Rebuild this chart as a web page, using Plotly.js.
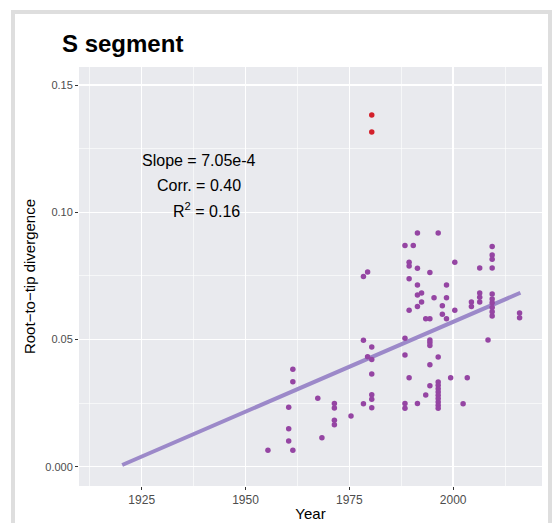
<!DOCTYPE html>
<html>
<head>
<meta charset="utf-8">
<script src="https://cdn.plot.ly/plotly-3.0.1.min.js"></script>
<style>
  html, body { margin: 0; padding: 0; background: #ffffff; }
  #wrap { position: relative; width: 554px; height: 523px; overflow: hidden; }
  #chart { position: absolute; left: 0; top: 0; width: 554px; height: 523px; }
  #frame { position: absolute; left: 11px; top: 10px; width: 541px; height: 600px;
           box-sizing: border-box; border: 4px solid #dedede; border-bottom: none; pointer-events: none; }
</style>
</head>
<body>
<div id="wrap">
  <div id="chart"></div>
  <div id="frame"></div>
</div>
<script>
// ---- data ----
const years = [
  1955.4,
  1960.4, 1960.4, 1960.4,
  1961.4, 1961.4, 1961.4,
  1967.4, 1968.4,
  1971.4, 1971.4, 1971.4, 1971.4,
  1975.4,
  1978.4, 1978.4, 1978.4,
  1979.4, 1979.4,
  1980.4, 1980.4, 1980.4, 1980.4, 1980.4, 1980.4,
  1988.4, 1988.4, 1988.4, 1988.4, 1988.4,
  1989.4, 1989.4, 1989.4, 1989.4, 1989.4,
  1990.4,
  1991.4, 1991.4, 1991.4, 1991.4, 1991.4, 1991.4,
  1992.4, 1992.4,
  1993.4, 1993.4,
  1994.4, 1994.4, 1994.4, 1994.4, 1994.4, 1994.4, 1994.4,
  1995.4,
  1996.4, 1996.4, 1996.4, 1996.4, 1996.4, 1996.4, 1996.4, 1996.4, 1996.4, 1996.4, 1996.4,
  1997.4, 1997.4,
  1998.4, 1998.4, 1998.4,
  1999.4,
  2000.4, 2000.4,
  2002.4, 2003.4,
  2004.4, 2004.4,
  2006.4, 2006.4, 2006.4, 2006.4,
  2008.4,
  2009.4, 2009.4, 2009.4, 2009.4, 2009.4, 2009.4, 2009.4, 2009.4, 2009.4, 2009.4,
  2016.0, 2016.0
];
const divergence = [
  0.0065,
  0.0234, 0.0150, 0.0101,
  0.0383, 0.0334, 0.0065,
  0.0269, 0.0114,
  0.0249, 0.0231, 0.0183, 0.0165,
  0.0200,
  0.0748, 0.0497, 0.0248,
  0.0765, 0.0432,
  0.0471, 0.0422, 0.0365, 0.0283, 0.0265, 0.0232,
  0.0870, 0.0505, 0.0439, 0.0249, 0.0230,
  0.0804, 0.0789, 0.0739, 0.0615, 0.0350,
  0.0870,
  0.0919, 0.0780, 0.0714, 0.0675, 0.0630, 0.0249,
  0.0683, 0.0648,
  0.0582, 0.0282,
  0.0764, 0.0582, 0.0498, 0.0488, 0.0477, 0.0401, 0.0319,
  0.0664,
  0.0919, 0.0431, 0.0333, 0.0320, 0.0307, 0.0294, 0.0281, 0.0268, 0.0255, 0.0242, 0.0230,
  0.0633, 0.0599,
  0.0714, 0.0664, 0.0582,
  0.0350,
  0.0804, 0.0615,
  0.0248, 0.0350,
  0.0648, 0.0630,
  0.0781, 0.0683, 0.0666, 0.0648,
  0.0498,
  0.0866, 0.0832, 0.0816, 0.0781, 0.0679, 0.0659, 0.0645, 0.0626, 0.0609, 0.0593,
  0.0604, 0.0586
];
const outlierYears = [1980.4, 1980.4];
const outlierDivergence = [0.1382, 0.1316];
const fitYears = [1920.3, 2016.2];
const fitDivergence = [0.0007, 0.0684];

const xTickVals = [1925, 1950, 1975, 2000];
const xTickText = ['1925', '1950', '1975', '2000'];
const yTickVals = [0, 0.05, 0.10, 0.15];
const yTickText = ['0.000', '0.05', '0.10', '0.15'];

const statLines = ['Slope = 7.05e-4', 'Corr. = 0.40', 'R<sup>2</sup> = 0.16'];

// ---- chart ----
const FONT = 'Liberation Sans, Arial, Helvetica, sans-serif';

const traces = [
  {
    x: fitYears, y: fitDivergence, mode: 'lines', type: 'scatter',
    line: { color: '#9c89c9', width: 4 }, hoverinfo: 'skip', showlegend: false
  },
  {
    x: years, y: divergence, mode: 'markers', type: 'scatter',
    marker: { color: '#9545a3', size: 5.5 }, showlegend: false
  },
  {
    x: outlierYears, y: outlierDivergence, mode: 'markers', type: 'scatter',
    marker: { color: '#d3202b', size: 5.5 }, showlegend: false
  }
];

const layout = {
  width: 554, height: 523,
  margin: { l: 79, r: 12, t: 67, b: 37, pad: 0 },
  paper_bgcolor: '#ffffff',
  plot_bgcolor: '#e9eaee',
  font: { family: FONT, color: '#000000' },
  showlegend: false,
  title: {
    text: '<b>S segment</b>',
    font: { family: FONT, size: 24, color: '#000000' },
    x: 62 / 554, xanchor: 'left', xref: 'container',
    y: 1 - 44 / 523, yanchor: 'middle', yref: 'container'
  },
  xaxis: {
    range: [1909.9, 2021.4],
    tickmode: 'array', tickvals: xTickVals, ticktext: xTickText,
    ticks: 'outside', ticklen: 3, tickwidth: 1.1, tickcolor: '#333333',
    tickfont: { family: FONT, size: 12, color: '#4d4d4d' },
    showgrid: true, gridcolor: '#ffffff', gridwidth: 1.3,
    minor: { tickmode: 'linear', tick0: 1900, dtick: 12.5, showgrid: true, gridcolor: '#ffffff', gridwidth: 0.6, ticks: '' },
    zeroline: false, showline: false, fixedrange: true,
    title: { text: 'Year', font: { family: FONT, size: 15, color: '#000000' }, standoff: 2 }
  },
  yaxis: {
    range: [-0.00754, 0.1571],
    tickmode: 'array', tickvals: yTickVals, ticktext: yTickText,
    ticks: 'outside', ticklen: 3, tickwidth: 1.1, tickcolor: '#333333',
    tickfont: { family: FONT, size: 11, color: '#4d4d4d' },
    showgrid: true, gridcolor: '#ffffff', gridwidth: 1.3,
    minor: { tickmode: 'linear', tick0: 0, dtick: 0.025, showgrid: true, gridcolor: '#ffffff', gridwidth: 0.6, ticks: '' },
    zeroline: false, showline: false, fixedrange: true,
    title: { text: 'Root\u2212to\u2212tip divergence', font: { family: FONT, size: 15, color: '#000000' }, standoff: 6 }
  },
  annotations: [
    { x: 1938.8, y: 0.1205, text: statLines[0] },
    { x: 1938.8, y: 0.1107, text: statLines[1] },
    { x: 1940.5, y: 0.1009, text: statLines[2] }
  ].map(a => Object.assign(a, {
    xref: 'x', yref: 'y', showarrow: false, xanchor: 'center', yanchor: 'middle',
    font: { family: FONT, size: 16, color: '#000000' }
  }))
};

Plotly.newPlot('chart', traces, layout, { staticPlot: true, displayModeBar: false });
</script>
</body>
</html>
